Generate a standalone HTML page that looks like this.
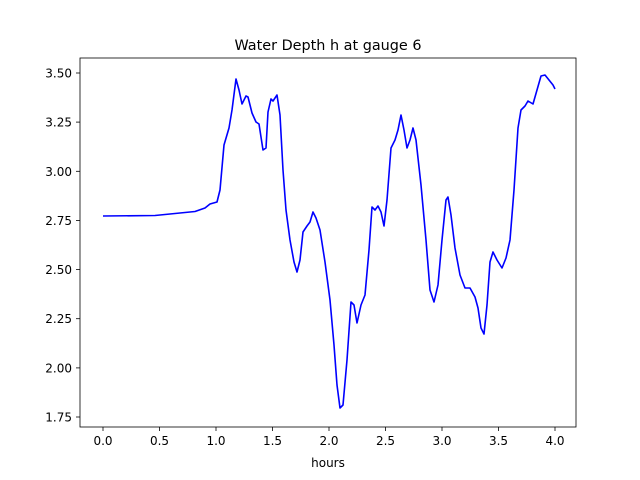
<!DOCTYPE html>
<html><head><meta charset="utf-8"><style>body{margin:0;background:#fff}svg{display:block}text{font-family:"DejaVu Sans","Liberation Sans",sans-serif;fill:#000}</style></head>
<body>
<svg width="640" height="480" viewBox="0 0 640 480" xmlns="http://www.w3.org/2000/svg">
<rect width="640" height="480" fill="#fff"/>
<text x="328" y="50" font-size="14.4" text-anchor="middle">Water Depth h at gauge 6</text>
<g stroke="#000" stroke-width="0.8">
<line x1="103" y1="427" x2="103" y2="431"/><line x1="159.5" y1="427" x2="159.5" y2="431"/><line x1="216" y1="427" x2="216" y2="431"/><line x1="272.5" y1="427" x2="272.5" y2="431"/><line x1="329" y1="427" x2="329" y2="431"/><line x1="385.5" y1="427" x2="385.5" y2="431"/><line x1="442" y1="427" x2="442" y2="431"/><line x1="498.5" y1="427" x2="498.5" y2="431"/><line x1="555" y1="427" x2="555" y2="431"/>
<line x1="76" y1="73" x2="80" y2="73"/><line x1="76" y1="122.1" x2="80" y2="122.1"/><line x1="76" y1="171.3" x2="80" y2="171.3"/><line x1="76" y1="220.4" x2="80" y2="220.4"/><line x1="76" y1="269.6" x2="80" y2="269.6"/><line x1="76" y1="318.7" x2="80" y2="318.7"/><line x1="76" y1="367.9" x2="80" y2="367.9"/><line x1="76" y1="417" x2="80" y2="417"/>
</g>
<g font-size="12" text-anchor="middle">
<text x="103" y="445">0.0</text><text x="159.5" y="445">0.5</text><text x="216" y="445">1.0</text><text x="272.5" y="445">1.5</text><text x="329" y="445">2.0</text><text x="385.5" y="445">2.5</text><text x="442" y="445">3.0</text><text x="498.5" y="445">3.5</text><text x="555" y="445">4.0</text>
<text x="328" y="467">hours</text>
</g>
<g font-size="12" text-anchor="end">
<text x="72" y="77.5">3.50</text><text x="72" y="126.6">3.25</text><text x="72" y="175.8">3.00</text><text x="72" y="224.9">2.75</text><text x="72" y="274.1">2.50</text><text x="72" y="323.2">2.25</text><text x="72" y="372.4">2.00</text><text x="72" y="421.5">1.75</text>
</g>
<polyline fill="none" stroke="#0000ff" stroke-width="1.6" stroke-linejoin="round" points="103,216 155,215.5 170,214 195,211.5 205,208 210,204 217,202 220,190 224,145 229,128 232,110 236,79 239,90 242,104 246,96 248,97 252,113 256,122 259,124 263,150 266,148 268,112 271,99 273,101 277,95 280,115 283,170 286,210 290,240 294,262 297,272 300,260 303,232 307,226 310,222 313,212 316,218 320,230 325,262 330,300 334,345 337,385 340,408 343,405 347,360 351,302 354,305 357,323 361,305 365,295 369,250 372,207 375,210 378,206 381,212 384,226 387,200 391,148 395,140 398,130 401,115 404,130 407,148 410,140 413,128 416,140 421,185 426,240 430,290 434,302 438,285 442,240 446,200 448,197 451,215 455,248 460,275 465,288 470,288 475,297 478,308 481,328 484,334 487,305 490,262 493,252 497,260 502,268 506,258 510,240 514,190 518,128 521,110 525,106 528,101 533,104 537,90 541,76 545,75 549,80 553,85 555,89"/>
<rect x="80" y="58" width="496" height="369" fill="none" stroke="#000" stroke-width="0.8"/>
</svg>
</body></html>
